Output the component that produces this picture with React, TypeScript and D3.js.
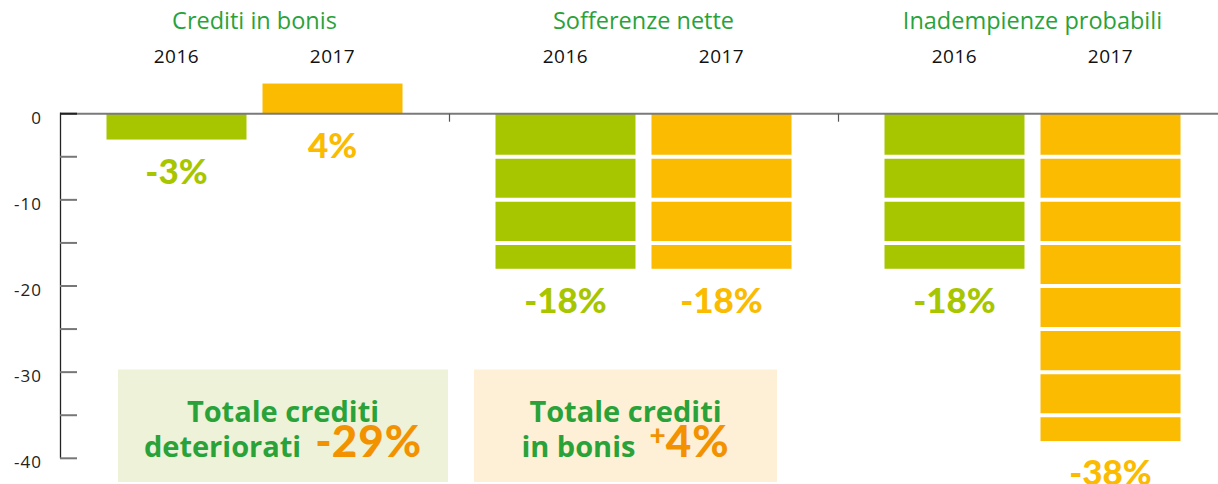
import React from "react";
import * as d3 from "d3";

const categories = ["Crediti in bonis", "Sofferenze nette", "Inadempienze probabili"];
const years = ["2016", "2017"];
const values2016 = [-3, -18, -18];
const values2017 = [3.5, -18, -38];
const labels2016 = ["-3%", "-18%", "-18%"];
const labels2017 = ["4%", "-18%", "-38%"];
const yTicks = [0, -5, -10, -15, -20, -25, -30, -35, -40];
const yTickLabels = ["0", "", "-10", "", "-20", "", "-30", "", "-40"];
const boxes = [
  { line1: "Totale crediti", line2: "deteriorati", sign: "-", big: "29%" },
  { line1: "Totale crediti", line2: "in bonis", sign: "+", big: "4%" },
];

const W = 1218;
const H = 484;
const GREEN = "#a8c600";
const ORANGE = "#fabb00";
const TITLE_GREEN = "#2aa23a";
const BIG_ORANGE = "#f39200";

export default function App() {
  const x = d3.scaleBand<string>().domain(categories).range([60, 1227]);
  const xi = d3
    .scaleBand<string>()
    .domain(years)
    .range([0, x.bandwidth()])
    .paddingInner(0.1026)
    .paddingOuter(0.298);
  const y = d3.scaleLinear().domain([0, -40]).range([113.7, 458.3]);

  const series = [
    { year: "2016", values: values2016, labels: labels2016, color: GREEN },
    { year: "2017", values: values2017, labels: labels2017, color: ORANGE },
  ];

  const boxX = [
    [118, 448],
    [474, 777],
  ];

  const barGeom = (s: (typeof series)[number], c: string, i: number) => {
    const v = s.values[i];
    const x0 = (x(c) as number) + (xi(s.year) as number);
    const top = y(Math.max(0, v));
    const bot = y(Math.min(0, v));
    return { x0, top, bot };
  };

  return (
    <svg
      width={W}
      height={H}
      style={{ position: "absolute", left: 0, top: 0, display: "block" }}
    >
      <rect width={W} height={H} fill="#fff" />
      {/* titles and years */}
      {categories.map((c) => (
        <g key={c}>
          <text
            x={(x(c) as number) + x.bandwidth() / 2}
            y={29}
            textAnchor="middle"
            fontFamily="Open Sans"
            fontSize={23.5}
            fontWeight={500}
            fill={TITLE_GREEN}
          >
            {c}
          </text>
          {years.map((yr) => (
            <text
              key={yr}
              x={(x(c) as number) + (xi(yr) as number) + xi.bandwidth() / 2}
              y={63}
              textAnchor="middle"
              fontFamily="Open Sans"
              fontSize={19}
              letterSpacing={0.5}
              fill="#111"
            >
              {yr}
            </text>
          ))}
        </g>
      ))}
      {/* bars */}
      {series.map((s) =>
        categories.map((c, i) => {
          const { x0, top, bot } = barGeom(s, c, i);
          return (
            <rect
              key={s.year + c}
              x={x0}
              y={top}
              width={xi.bandwidth()}
              height={bot - top}
              fill={s.color}
            />
          );
        })
      )}
      {/* white gridlines */}
      {yTicks
        .filter((t) => t !== 0)
        .map((t) => (
          <line key={t} x1={61} x2={W} y1={y(t)} y2={y(t)} stroke="#fff" strokeWidth={4} />
        ))}
      {/* value labels */}
      {series.map((s) =>
        categories.map((c, i) => {
          const { x0, bot } = barGeom(s, c, i);
          return (
            <text
              key={"l" + s.year + c}
              x={x0 + xi.bandwidth() / 2}
              y={bot + 44}
              textAnchor="middle"
              fontFamily="Lato"
              fontWeight={900}
              fontSize={35}
              fill={s.color}
            >
              {s.labels[i]}
            </text>
          );
        })
      )}
      {/* boxes */}
      {boxes.map((b, i) => {
        const [bx0, bx1] = boxX[i];
        const cx = (bx0 + bx1) / 2;
        const plus = b.sign === "+";
        return (
          <g key={i}>
            <rect
              x={bx0}
              y={369.5}
              width={bx1 - bx0}
              height={112.5}
              fill={i === 0 ? "#eef2d8" : "#fdf0d6"}
            />
            <text
              x={cx}
              y={422}
              textAnchor="middle"
              fontFamily="Open Sans"
              fontWeight={700}
              fontSize={29}
              fill={TITLE_GREEN}
            >
              {b.line1}
            </text>
            <text
              x={cx}
              y={457}
              textAnchor="middle"
              fontFamily="Open Sans"
              fontWeight={700}
              fontSize={29}
              fill={TITLE_GREEN}
            >
              {b.line2}
              <tspan
                dx={14}
                fill={BIG_ORANGE}
                fontFamily="Lato"
                fontWeight={900}
                fontSize={plus ? 28 : 44}
                dy={plus ? -12 : 0}
              >
                {b.sign}
              </tspan>
              <tspan
                fill={BIG_ORANGE}
                fontFamily="Lato"
                fontWeight={900}
                fontSize={44}
                letterSpacing={1}
                dy={plus ? 12 : 0}
              >
                {b.big}
              </tspan>
            </text>
          </g>
        );
      })}
      {/* zero line */}
      <line x1={60} x2={W} y1={y(0)} y2={y(0)} stroke="#7a7a7a" strokeWidth={2} />
      {/* category separators */}
      {categories.slice(1).map((c) => (
        <line
          key={c}
          x1={(x(c) as number) + 0.5}
          x2={(x(c) as number) + 0.5}
          y1={y(0)}
          y2={y(0) + 8}
          stroke="#555"
          strokeWidth={1.2}
        />
      ))}
      {/* y axis */}
      <line x1={60.5} x2={60.5} y1={y(0) - 1} y2={y(-40)} stroke="#222" strokeWidth={1.3} />
      {yTicks.map((t, i) => (
        <g key={t}>
          <line
            x1={60}
            x2={77}
            y1={y(t)}
            y2={y(t)}
            stroke={t === 0 ? "#222" : "#777"}
            strokeWidth={2}
          />
          {yTickLabels[i] && (
            <text
              x={42}
              y={y(t) + 10}
              textAnchor="end"
              fontFamily="Open Sans"
              fontSize={17}
              letterSpacing={1}
              fill="#222"
            >
              {yTickLabels[i]}
            </text>
          )}
        </g>
      ))}
    </svg>
  );
}
